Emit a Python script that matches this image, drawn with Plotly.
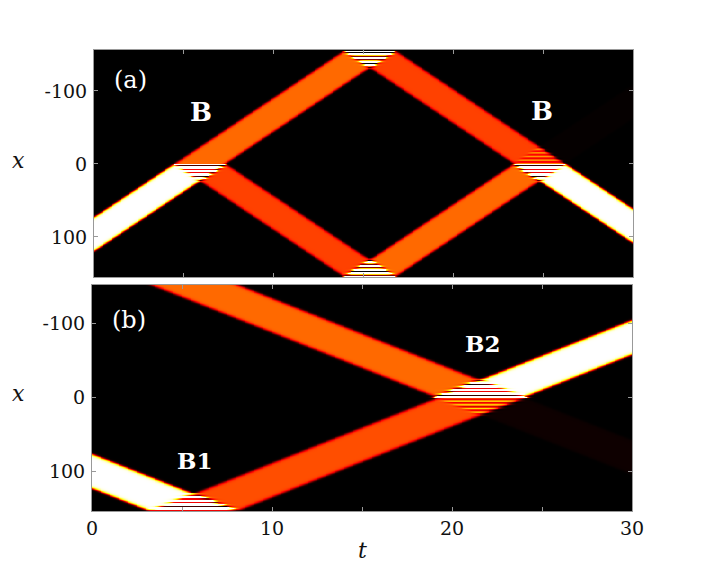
import numpy as np
import plotly.graph_objects as go

# ---------------- data ----------------
# Each beam: centre passes position X_CROSS at time T_CROSS, moves with SPEED (x per unit t),
# has peak intensity INTENSITY and exists only between XLO and XHI.
A_T_CROSS = [5.9, 5.9, 5.9, 15.35, 15.35, 24.8, 24.8]
A_X_CROSS = [0.0, 0.0, 0.0, -155.0, 155.0, 0.0, 0.0]
A_SPEED = [-16.4, -16.4, 16.4, 16.4, -16.4, 16.4, -16.4]
A_INTENSITY = [1.0, 0.53, 0.47, 0.47, 0.53, 1.0, 0.008]
A_XLO = [0.0, -155.0, 0.0, -155.0, 0.0, 0.0, -155.0]
A_XHI = [155.0, 0.0, 155.0, 0.0, 155.0, 155.0, 0.0]

B_T_CROSS = [5.64, 5.64, 21.55, 21.55, 21.55]
B_X_CROSS = [154.0, 154.0, 0.0, 0.0, 0.0]
B_SPEED = [9.6, -9.6, 9.6, -9.6, 9.6]
B_INTENSITY = [1.0, 0.49, 0.53, 1.0, 0.02]
B_XLO = [-400.0, 0.0, -400.0, -400.0, 0.0]
B_XHI = [154.0, 154.0, 0.0, 0.0, 400.0]

BEAM_HALF_WIDTH = 24.0
EDGE_SOFTNESS = 2.5
FRINGE_PERIOD = 5.0

T_RANGE = [0, 30]
A_X_RANGE = [155, -156]
B_X_RANGE = [154, -152]
T_TICKS = [0, 5, 10, 15, 20, 25, 30]
T_TICK_TEXT = ["0", "", "10", "", "20", "", "30"]
X_TICKS = [-100, 0, 100]
X_TICK_TEXT = ["-100", "0", "100"]

# ---------------- build intensity maps ----------------
t = np.arange(0, 30.0001, 0.05)
x = np.arange(-156, 156.0001, 0.5)
TT, XX = np.meshgrid(t, x)
k0 = np.pi / FRINGE_PERIOD


def field(tc, xc, v, inten, xlo, xhi):
    F = np.zeros_like(TT, dtype=complex)
    for a, b, c, d, lo, hi in zip(tc, xc, v, inten, xlo, xhi):
        centre = b + c * (TT - a)
        env = 0.5 * (1 + np.tanh((BEAM_HALF_WIDTH - np.abs(XX - centre)) / EDGE_SOFTNESS))
        mask = (XX >= lo) & (XX <= hi)
        F += np.sqrt(d) * env * mask * np.exp(1j * k0 * np.sign(c) * XX)
    return (np.abs(F) ** 2).astype(np.float32)


ZA = field(A_T_CROSS, A_X_CROSS, A_SPEED, A_INTENSITY, A_XLO, A_XHI)
ZB = field(B_T_CROSS, B_X_CROSS, B_SPEED, B_INTENSITY, B_XLO, B_XHI)

hot = [[0.0, "rgb(0,0,0)"], [0.375, "rgb(255,0,0)"], [0.75, "rgb(255,255,0)"], [1.0, "rgb(255,255,255)"]]

fig = go.Figure()
fig.add_trace(go.Heatmap(x=t, y=x, z=ZA, colorscale=hot, zmin=0, zmax=1, showscale=False,
                         hoverinfo="skip", xaxis="x", yaxis="y"))
fig.add_trace(go.Heatmap(x=t, y=x, z=ZB, colorscale=hot, zmin=0, zmax=1, showscale=False,
                         hoverinfo="skip", xaxis="x2", yaxis="y2"))

W, H = 714, 571
tickfont = dict(family="DejaVu Serif", size=19, color="#111")
common = dict(showgrid=False, zeroline=False, ticks="inside", ticklen=4, tickcolor="#999",
              showline=True, linecolor="#999", linewidth=1, mirror="ticks", tickfont=tickfont,
              automargin=False)

fig.update_layout(
    width=W, height=H, autosize=False, margin=dict(l=0, r=0, t=0, b=0),
    paper_bgcolor="white", plot_bgcolor="black", showlegend=False,
    xaxis=dict(domain=[94 / W, 633 / W], range=T_RANGE, anchor="y", tickvals=T_TICKS,
               ticktext=[""] * len(T_TICKS), **common),
    yaxis=dict(domain=[1 - 277 / H, 1 - 50 / H], range=A_X_RANGE, anchor="x", tickvals=X_TICKS,
               ticktext=X_TICK_TEXT, ticklabelstandoff=2, **common),
    xaxis2=dict(domain=[92 / W, 632 / W], range=T_RANGE, anchor="y2", tickvals=T_TICKS,
                ticktext=T_TICK_TEXT, **common),
    yaxis2=dict(domain=[1 - 511 / H, 1 - 285 / H], range=B_X_RANGE, anchor="x2", tickvals=X_TICKS,
                ticktext=X_TICK_TEXT, ticklabelstandoff=2, **common),
)


def ann(text, px, py, size, color="white", bold=False, italic=False):
    s = text
    if bold:
        s = "<b>" + s + "</b>"
    if italic:
        s = "<i>" + s + "</i>"
    fig.add_annotation(text=s, x=px / W, y=1 - py / H, xref="paper", yref="paper", showarrow=False,
                       xanchor="center", yanchor="middle",
                       font=dict(family="DejaVu Serif", size=size, color=color))


ann("(a)", 130, 80, 24)
ann("B", 201, 112, 26, bold=True)
ann("B", 542, 111, 26, bold=True)
ann("(b)", 129, 320, 24)
ann("B1", 195, 460, 23, bold=True)
ann("B2", 482, 344, 23, bold=True)
ann("x", 18, 160, 22, color="#111", italic=True)
ann("x", 18, 393, 22, color="#111", italic=True)
ann("t", 362, 550, 22, color="#111", italic=True)

fig.write_html("out.html", config={"responsive": False, "displayModeBar": False},
               post_script="document.body.style.margin='0';document.body.style.overflow='hidden';")
